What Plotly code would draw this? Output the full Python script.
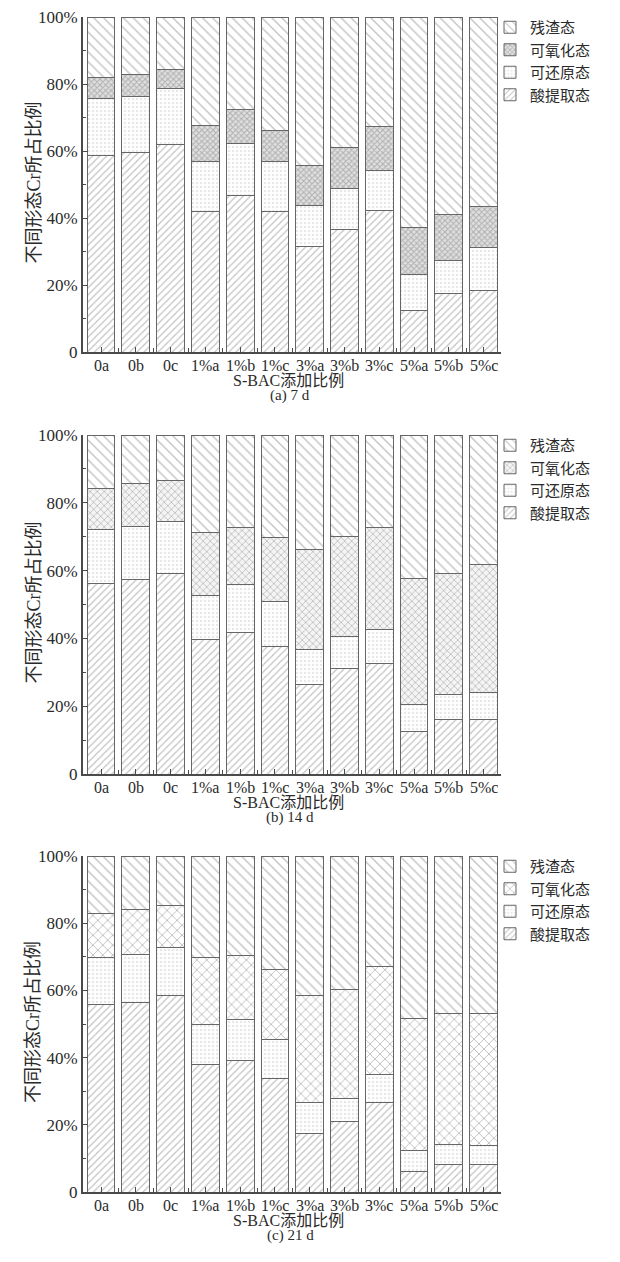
import plotly.graph_objects as go

# Sample groups (S-BAC dosage + replicate)
categories = ["0a", "0b", "0c", "1%a", "1%b", "1%c",
              "3%a", "3%b", "3%c", "5%a", "5%b", "5%c"]

# Cr fractions (%) after 7 d
acid_7 = [58.7, 59.7, 61.9, 42.0, 46.7, 42.0, 31.6, 36.7, 42.1, 12.4, 17.4, 18.4]
red_7 = [16.9, 16.6, 16.7, 14.9, 15.5, 14.9, 12.2, 12.0, 12.1, 10.8, 10.0, 12.9]
oxi_7 = [6.2, 6.6, 5.8, 10.8, 10.2, 9.3, 11.9, 12.2, 13.0, 14.1, 13.6, 12.0]
res_7 = [18.2, 17.1, 15.6, 32.3, 27.6, 33.8, 44.3, 39.1, 32.8, 62.7, 59.0, 56.7]

# Cr fractions (%) after 14 d
acid_14 = [56.3, 57.3, 59.2, 39.6, 41.8, 37.6, 26.3, 31.2, 32.5, 12.4, 16.0, 16.0]
red_14 = [15.7, 15.7, 15.3, 13.2, 14.2, 13.3, 10.5, 9.4, 10.2, 8.2, 7.6, 8.1]
oxi_14 = [12.1, 12.6, 12.2, 18.5, 16.8, 18.9, 29.3, 29.4, 30.0, 37.2, 35.6, 37.8]
res_14 = [15.9, 14.4, 13.3, 28.7, 27.2, 30.2, 33.9, 30.0, 27.3, 42.2, 40.8, 38.1]

# Cr fractions (%) after 21 d
acid_21 = [55.7, 56.5, 58.4, 37.9, 39.0, 33.9, 17.5, 21.0, 26.5, 6.1, 8.3, 8.1]
red_21 = [14.1, 14.1, 14.4, 11.9, 12.4, 11.6, 9.0, 6.9, 8.6, 6.3, 5.8, 5.7]
oxi_21 = [13.0, 13.6, 12.6, 20.1, 18.9, 20.6, 31.9, 32.5, 32.0, 39.1, 38.9, 39.2]
res_21 = [17.2, 15.8, 14.6, 30.1, 29.7, 33.9, 41.6, 39.6, 32.9, 48.5, 47.0, 47.0]

fraction_names = ["酸提取态", "可还原态", "可氧化态", "残渣态"]
y_ticks = [0, 20, 40, 60, 80, 100]
y_ticktext = ["0", "20%", "40%", "60%", "80%", "100%"]
panel_titles = ["(a) 7 d", "(b) 14 d", "(c) 21 d"]
x_title = "S-BAC添加比例"
y_title = "不同形态Cr所占比例"

panels = [
    [acid_7, red_7, oxi_7, res_7],
    [acid_14, red_14, oxi_14, res_14],
    [acid_21, red_21, oxi_21, res_21],
]

W, H = 620, 1262
FONT = "Liberation Serif, Times New Roman, Noto Sans CJK SC, serif"
TXT = "#2a2a2a"
AX = "#4a4a4a"

# plot-area boxes in pixels: (left, top, right, bottom)
boxes = [(83, 17, 501, 352), (83, 435, 501, 774), (83, 856, 501, 1192)]


def px_x(v):
    return v / W


def px_y(v):
    return 1 - v / H


def patterns(panel):
    if panel == 0:
        oxi_pat = dict(shape="x", size=4, solidity=0.45, fgcolor="#808080", bgcolor="#e0e0e0")
    elif panel == 1:
        oxi_pat = dict(shape="x", size=5, solidity=0.3, fgcolor="#858585", bgcolor="#f4f4f4")
    else:
        oxi_pat = dict(shape="x", size=7, solidity=0.25, fgcolor="#808080", bgcolor="white")
    return [
        dict(shape="/", size=5, solidity=0.25, fgcolor="#888888", bgcolor="white"),
        dict(shape=".", size=4, solidity=0.3, fgcolor="#cfcfcf", bgcolor="white"),
        oxi_pat,
        dict(shape="\\", size=7, solidity=0.2, fgcolor="#888888", bgcolor="white"),
    ]


fig = go.Figure()
x_pos = list(range(len(categories)))

for p, series in enumerate(panels):
    sfx = "" if p == 0 else str(p + 1)
    pats = patterns(p)
    for name, vals, pat in zip(fraction_names, series, pats):
        fig.add_trace(go.Bar(
            x=x_pos, y=vals, name=name, width=0.8,
            marker=dict(color="white", pattern=pat,
                        line=dict(color="#666666", width=1)),
            xaxis="x" + sfx, yaxis="y" + sfx,
            legend="legend" + sfx,
        ))

    l, t, r, b = boxes[p]
    fig.layout["xaxis" + sfx] = dict(
        domain=[px_x(l), px_x(r)], anchor="y" + sfx, automargin=False,
        range=[-0.52, len(categories) - 0.5],
        tickmode="array", tickvals=x_pos, showticklabels=False,
        ticks="inside", ticklen=5, tickcolor=AX, tickwidth=1,
        minor=dict(ticks="inside", ticklen=4, tick0=0.5, dtick=1, tickcolor=AX),
        showline=True, linecolor=AX, linewidth=1.5,
        showgrid=False, zeroline=False,
    )
    fig.layout["yaxis" + sfx] = dict(
        domain=[px_y(b), px_y(t)], anchor="x" + sfx, automargin=False,
        range=[0, 100],
        tickmode="array", tickvals=y_ticks, ticktext=y_ticktext,
        ticks="inside", ticklen=5, tickcolor=AX, tickwidth=1,
        minor=dict(ticks="inside", ticklen=3, dtick=10, tickcolor=AX),
        showline=True, linecolor=AX, linewidth=2,
        showgrid=False, zeroline=False,
        tickfont=dict(family=FONT, size=17, color=TXT),
    )

    # category labels placed tightly under the axis
    for xi, lab in zip(x_pos, categories):
        fig.add_annotation(x=xi, y=px_y(b + 13), xref="x" + sfx, yref="paper",
                           xanchor="center", yanchor="middle",
                           text=lab, showarrow=False,
                           font=dict(family=FONT, size=16, color=TXT))

    fig.layout["legend" + sfx] = dict(
        x=px_x(490), y=px_y(t - 6), xanchor="left", yanchor="top",
        traceorder="reversed", bgcolor="rgba(0,0,0,0)",
        font=dict(family=FONT, size=15, color=TXT),
        itemwidth=30, tracegroupgap=0,
    )

    fig.add_annotation(x=px_x(33), y=px_y((t + b) / 2 - 2), xref="paper", yref="paper",
                       xanchor="center", yanchor="middle",
                       text=y_title, textangle=-90, showarrow=False,
                       font=dict(family=FONT, size=18, color=TXT))
    fig.add_annotation(x=px_x(288), y=px_y(b + 28), xref="paper", yref="paper",
                       xanchor="center", yanchor="middle",
                       text=x_title, showarrow=False,
                       font=dict(family=FONT, size=16, color=TXT))
    fig.add_annotation(x=px_x(290), y=px_y(b + 43), xref="paper", yref="paper",
                       xanchor="center", yanchor="middle",
                       text=panel_titles[p], showarrow=False,
                       font=dict(family=FONT, size=15, color=TXT))

fig.update_layout(
    width=W, height=H, barmode="stack",
    margin=dict(l=0, r=0, t=0, b=0, autoexpand=False),
    paper_bgcolor="white", plot_bgcolor="white",
    showlegend=True,
)

fig.write_html("out.html")
